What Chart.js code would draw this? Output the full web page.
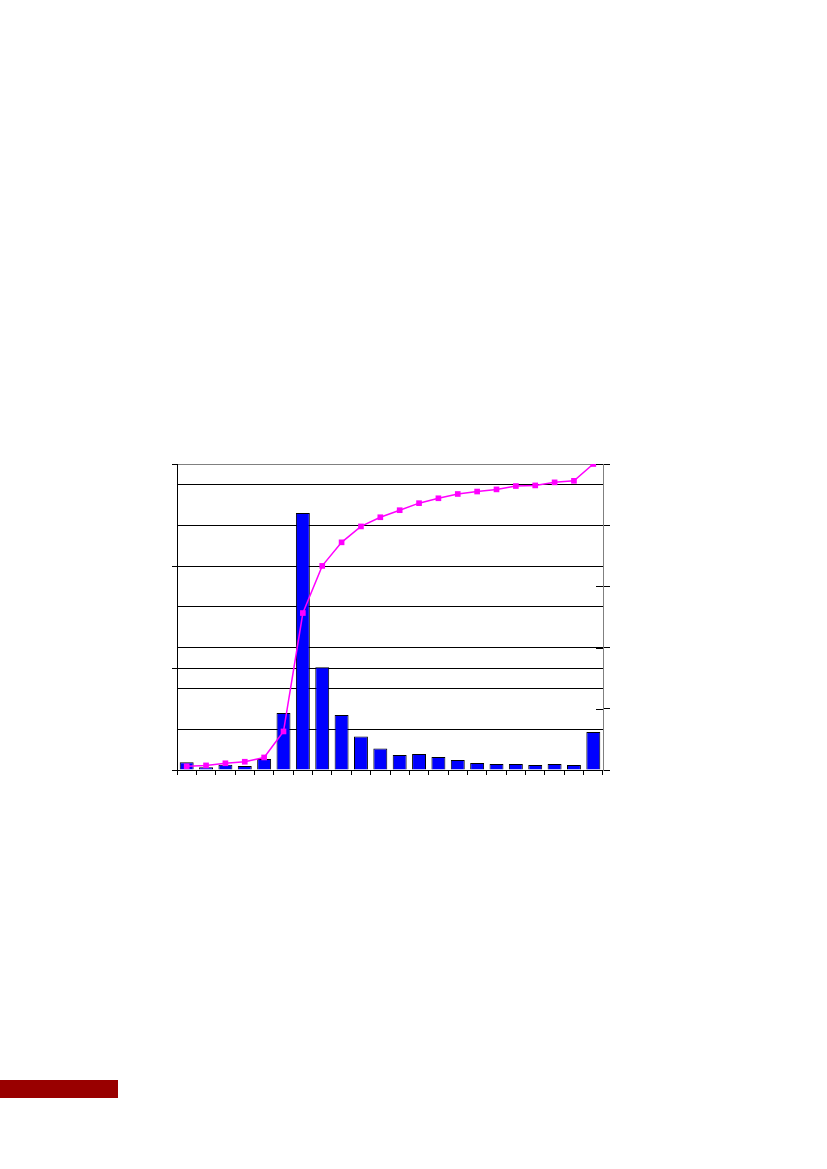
<!DOCTYPE html>
<html>
<head>
<meta charset="utf-8">
<script src="https://cdn.jsdelivr.net/npm/chart.js@4"></script>
<style>
  body { margin: 0; background: #fff; }
  #wrap { position: relative; width: 827px; height: 1169px; }
  #redBar { position: absolute; left: 0; top: 1080px; width: 118px; height: 18px; background: #990000; }
</style>
</head>
<body>
<div id="wrap">
  <canvas id="paretoChart" width="827" height="1169"></canvas>
  <div id="redBar"></div>
</div>
<script>
// categories (no labels are printed in the picture)
const categories = [
  "1", "2", "3", "4", "5", "6", "7", "8", "9", "10", "11",
  "12", "13", "14", "15", "16", "17", "18", "19", "20", "21", "22",
];
// bar heights, left axis 0 - 7.5
const barValues = [
  0.19, 0.07, 0.13, 0.1, 0.27, 1.4, 6.3, 2.52, 1.35, 0.82, 0.53,
  0.37, 0.39, 0.32, 0.245, 0.17, 0.15, 0.15, 0.125, 0.15, 0.125, 0.93,
];
// cumulative line, right axis 0 - 100
const cumulativeValues = [
  1.2, 1.5, 2.2, 2.7, 4.1, 12.6, 51.3, 66.7, 74.4, 79.6, 82.6,
  84.9, 87.2, 88.8, 90.2, 91.0, 91.7, 92.8, 93.0, 94.0, 94.5, 100,
];
const leftMax = 7.5;
const rightMax = 100;

// small ticks that reach inside the plot on the right axis
const innerTicks = {
  id: "innerTicks",
  afterDraw(chart) {
    const scale = chart.scales.y1;
    const c = chart.ctx;
    c.save();
    c.strokeStyle = "#000";
    c.lineWidth = 1;
    scale.ticks.forEach((t) => {
      const y = Math.round(scale.getPixelForValue(t.value)) + 0.5;
      c.beginPath();
      c.moveTo(chart.chartArea.right - 7, y);
      c.lineTo(chart.chartArea.right, y);
      c.stroke();
    });
    c.restore();
  },
};

const ctx = document.getElementById("paretoChart").getContext("2d");
new Chart(ctx, {
  type: "bar",
  data: {
    labels: categories,
    datasets: [
      {
        type: "line",
        data: cumulativeValues,
        yAxisID: "y1",
        borderColor: "#FF00FF",
        backgroundColor: "#FF00FF",
        borderWidth: 1.5,
        pointStyle: "rect",
        pointRadius: 4,
        pointBorderWidth: 0,
        tension: 0,
        order: 0,
      },
      {
        type: "bar",
        data: barValues,
        yAxisID: "y",
        backgroundColor: "#0000FF",
        borderColor: "#000",
        borderWidth: 1,
        barPercentage: 0.72,
        categoryPercentage: 1,
        order: 1,
      },
    ],
  },
  options: {
    responsive: false,
    animation: false,
    layout: { padding: { left: 172, top: 464, right: 217, bottom: 394 } },
    plugins: { legend: { display: false }, tooltip: { enabled: false } },
    scales: {
      x: {
        ticks: { display: false },
        grid: { drawOnChartArea: false, tickLength: 5, tickColor: "#000", offset: true },
        border: { color: "#000", width: 1 },
      },
      y: {
        position: "left",
        min: 0,
        max: leftMax,
        ticks: { display: false, stepSize: 0.5 },
        grid: {
          lineWidth: 1,
          tickLength: 5,
          color: (c) => {
            const v = c.tick.value;
            if (v === leftMax) return "#808080";
            if (v > 0 && (Number.isInteger(v) || v === 2.5)) return "#000";
            return "rgba(0,0,0,0)";
          },
          tickColor: (c) => (c.tick.value % 2.5 === 0 ? "#000" : "rgba(0,0,0,0)"),
        },
        border: { color: "#000", width: 1 },
      },
      y1: {
        position: "right",
        min: 0,
        max: rightMax,
        ticks: { display: false, stepSize: 20 },
        grid: { drawOnChartArea: false, tickLength: 7, tickColor: "#000" },
        border: { color: "#808080", width: 1 },
      },
    },
  },
  plugins: [innerTicks],
});
</script>
</body>
</html>
